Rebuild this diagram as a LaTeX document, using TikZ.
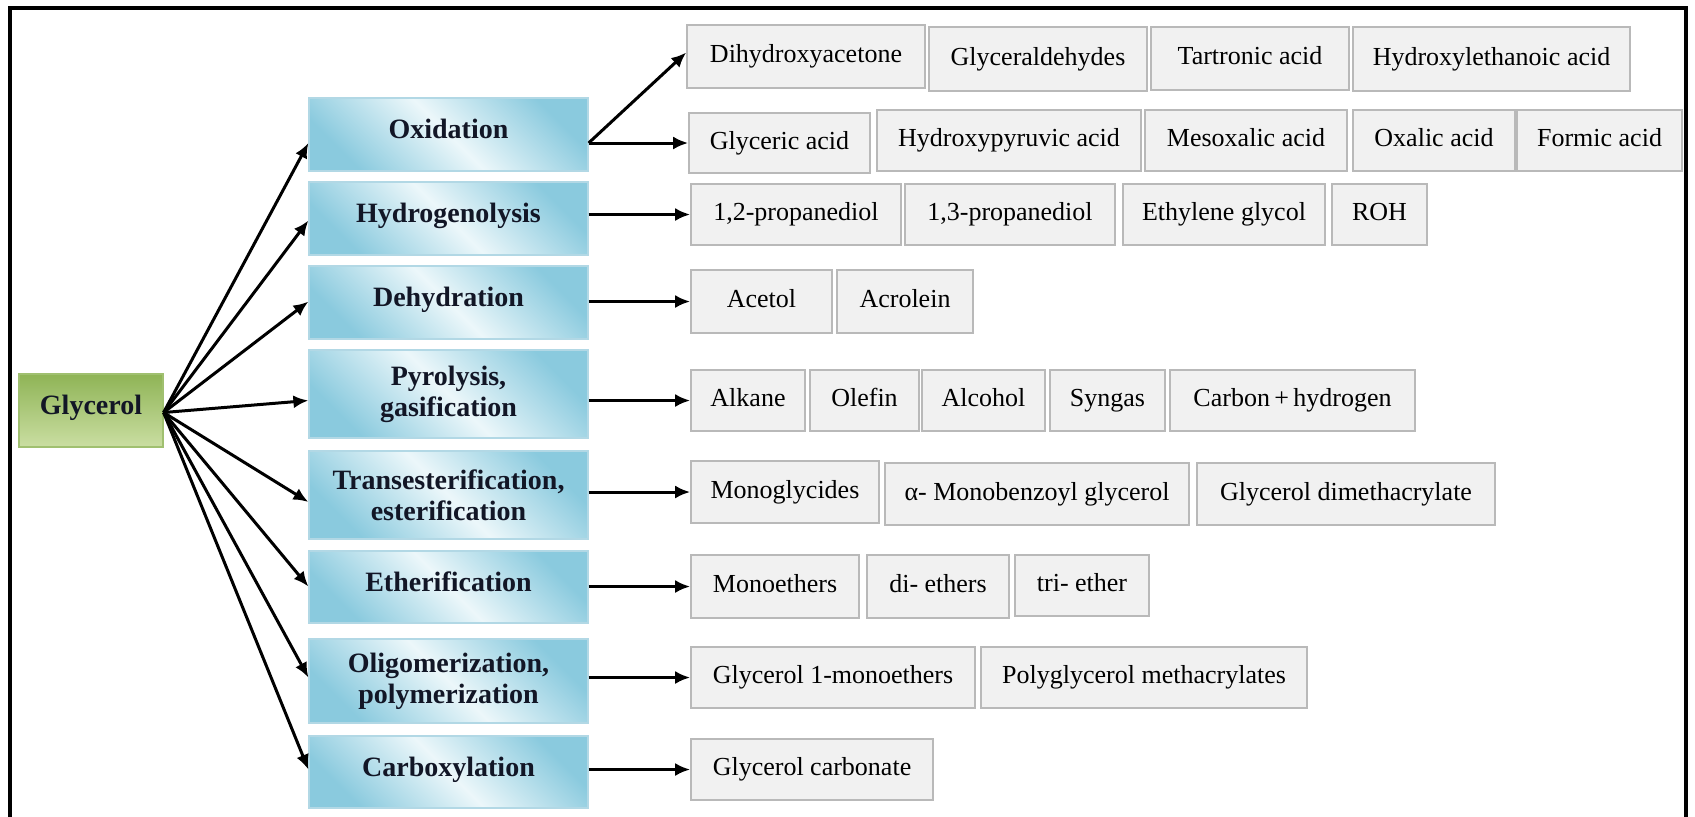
\documentclass[tikz,border=0pt]{standalone}
\usepackage{fontspec}
\setmainfont{Liberation Serif}
\usetikzlibrary{arrows.meta,calc}
\definecolor{pdark}{RGB}{138,202,222}
\definecolor{plight}{RGB}{236,247,250}
\definecolor{pline}{RGB}{178,216,229}
\definecolor{gtop}{RGB}{143,180,86}
\definecolor{gbot}{RGB}{202,222,162}
\definecolor{gline}{RGB}{160,192,112}
\definecolor{prodfill}{RGB}{241,241,241}
\definecolor{prodline}{RGB}{185,185,185}
\definecolor{ptext}{RGB}{18,22,38}
\tikzset{
  frame/.style={line width=2pt, black},
  procbox/.style={draw=pline, line width=0.6pt, top color=pdark, bottom color=pdark,
    middle color=plight, shading angle=-45, inner sep=0pt, align=center,
    font=\fontsize{14}{15.5}\selectfont\bfseries, text=ptext},
  procone/.style={procbox, text height=10pt, text depth=6pt},
  glybox/.style={draw=gline, line width=0.6pt, top color=gtop, bottom color=gbot,
    inner sep=0pt, font=\fontsize{14}{15.5}\selectfont\bfseries, text=ptext,
    text height=10pt, text depth=6pt},
  prodbox/.style={draw=prodline, fill=prodfill, line width=0.8pt, inner sep=0pt,
    font=\fontsize{13}{15}\selectfont, text=black, text height=9pt, text depth=3pt},
  arr/.style={line width=1.5pt, black, -{Latex[length=7.5pt,width=6.5pt]}}
}
\newcommand\mkbox[7]{\node[#1, minimum width={(#5-#3)*0.5pt}, minimum height={(#6-#4)*0.5pt}] (#2) at ({(#3+#5)/2},{(#4+#6)/2}) {#7};}
\begin{document}
\begin{tikzpicture}[x=0.5pt,y=-0.5pt]
\useasboundingbox (0,0) rectangle (1695,816);
\clip (0,0) rectangle (1695,816);
\draw[frame] (10,840) -- (10,8) -- (1686,8) -- (1686,840);

% source
\mkbox{glybox}{gly}{19}{374}{163}{447}{Glycerol}

% processes
\mkbox{procone}{ox}{309}{98}{588}{171}{Oxidation}
\mkbox{procone}{hyd}{309}{182}{588}{255}{Hydrogenolysis}
\mkbox{procone}{deh}{309}{266}{588}{339}{Dehydration}
\mkbox{procbox}{pyr}{309}{350}{588}{438}{Pyrolysis,\\gasification}
\mkbox{procbox}{tra}{309}{451}{588}{539}{Transesterification,\\esterification}
\mkbox{procone}{eth}{309}{551}{588}{623}{Etherification}
\mkbox{procbox}{oli}{309}{639}{588}{723}{Oligomerization,\\polymerization}
\mkbox{procone}{car}{309}{736}{588}{808}{Carboxylation}

% products
\mkbox{prodbox}{p11}{687}{25}{925}{88}{Dihydroxyacetone}
\mkbox{prodbox}{p12}{929}{27}{1147}{91}{Glyceraldehydes}
\mkbox{prodbox}{p13}{1151}{27}{1349}{90}{Tartronic acid}
\mkbox{prodbox}{p14}{1353}{27}{1630}{91}{Hydroxylethanoic acid}

\mkbox{prodbox}{p21}{689}{113}{870}{173}{Glyceric acid}
\mkbox{prodbox}{p22}{877}{110}{1141}{171}{Hydroxypyruvic acid}
\mkbox{prodbox}{p23}{1145}{110}{1347}{171}{Mesoxalic acid}
\mkbox{prodbox}{p24}{1353}{110}{1515}{171}{Oxalic acid}
\mkbox{prodbox}{p25}{1517}{110}{1682}{171}{Formic acid}

\mkbox{prodbox}{p31}{691}{184}{901}{245}{1,2-propanediol}
\mkbox{prodbox}{p32}{905}{184}{1115}{245}{1,3-propanediol}
\mkbox{prodbox}{p33}{1123}{184}{1325}{245}{Ethylene glycol}
\mkbox{prodbox}{p34}{1332}{184}{1427}{245}{ROH}

\mkbox{prodbox}{p41}{691}{270}{832}{333}{Acetol}
\mkbox{prodbox}{p42}{837}{270}{973}{333}{Acrolein}

\mkbox{prodbox}{p51}{691}{370}{805}{431}{Alkane}
\mkbox{prodbox}{p52}{810}{370}{919}{431}{Olefin}
\mkbox{prodbox}{p53}{922}{370}{1045}{431}{Alcohol}
\mkbox{prodbox}{p54}{1050}{370}{1165}{431}{Syngas}
\mkbox{prodbox}{p55}{1170}{370}{1415}{431}{Carbon\,+\,hydrogen}

\mkbox{prodbox}{p61}{691}{461}{879}{523}{Monoglycides}
\mkbox{prodbox}{p62}{885}{463}{1189}{525}{α- Monobenzoyl glycerol}
\mkbox{prodbox}{p63}{1197}{463}{1495}{525}{Glycerol dimethacrylate}

\mkbox{prodbox}{p71}{691}{555}{859}{618}{Monoethers}
\mkbox{prodbox}{p72}{867}{555}{1009}{618}{di- ethers}
\mkbox{prodbox}{p73}{1015}{555}{1149}{616}{tri- ether}

\mkbox{prodbox}{p81}{691}{647}{975}{708}{Glycerol 1-monoethers}
\mkbox{prodbox}{p82}{981}{647}{1307}{708}{Polyglycerol methacrylates}

\mkbox{prodbox}{p91}{691}{739}{933}{800}{Glycerol carbonate}

% glycerol -> processes
\coordinate (gc) at ($(gly.east)+(0,2)$);
\draw[arr] (gc) -- (ox.west |- p21.west);
\draw[arr] (gc) -- ($(hyd.west)+(0,2)$);
\draw[arr] (gc) -- (deh.west |- p41.west);
\draw[arr] (gc) -- (pyr.west |- p51.west);
\draw[arr] (gc) -- ($(tra.west)+(0,7)$);
\draw[arr] (gc) -- (eth.west |- p71.west);
\draw[arr] (gc) -- (oli.west |- p81.west);
\draw[arr] (gc) -- (car.west |- p91.west);

% processes -> products
\draw[arr] (ox.east |- p21.west) -- ($(p11.west)+(0,-4)$);
\draw[arr] (ox.east |- p21.west) -- (p21.west);
\draw[arr] (hyd.east |- p31.west) -- (p31.west);
\draw[arr] (deh.east |- p41.west) -- (p41.west);
\draw[arr] (pyr.east |- p51.west) -- (p51.west);
\draw[arr] (tra.east |- p61.west) -- (p61.west);
\draw[arr] (eth.east |- p71.west) -- (p71.west);
\draw[arr] (oli.east |- p81.west) -- (p81.west);
\draw[arr] (car.east |- p91.west) -- (p91.west);
\end{tikzpicture}
\end{document}
